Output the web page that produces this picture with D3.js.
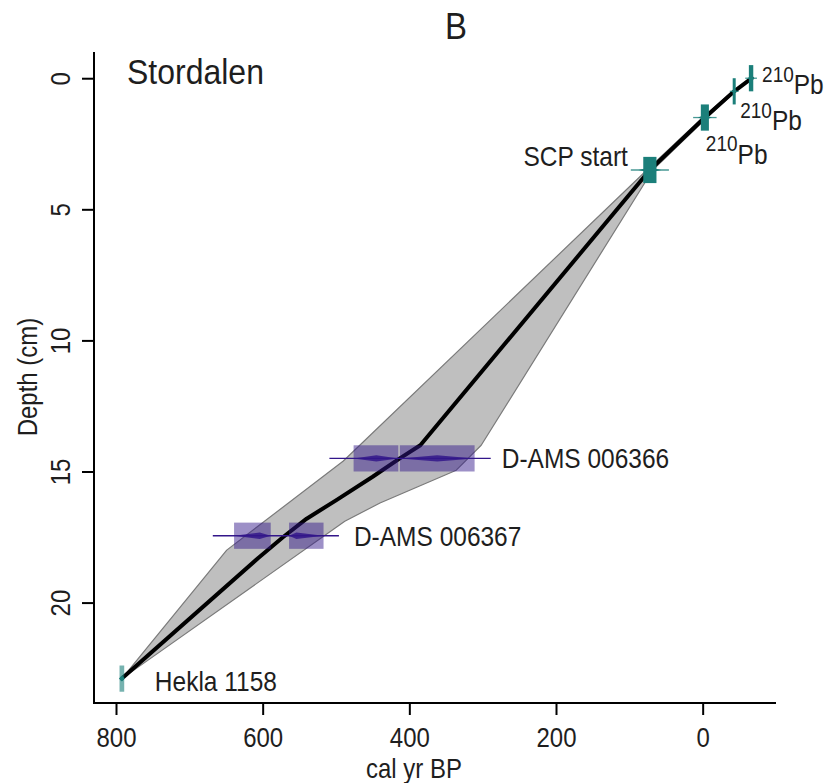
<!DOCTYPE html>
<html><head><meta charset="utf-8">
<script src="https://cdn.jsdelivr.net/npm/d3@7/dist/d3.min.js"></script>
<style>
body{margin:0;background:#fff;}
text{font-family:"Liberation Sans",Arial,Helvetica,sans-serif;fill:#1e1e1e;}
</style></head>
<body>
<script>
// ---------- data ----------
const xTicks = [800, 600, 400, 200, 0];
const yTicks = [0, 5, 10, 15, 20];

// mean age-depth model (cal yr BP vs depth cm)
const modelAge   = [-67, -43, -3, 72, 385, 413, 450, 500, 540, 572, 606, 792];
const modelDepth = [0, 0.5, 1.5, 3.5, 14, 14.5, 15.2, 16.1, 16.8, 17.5, 18.3, 22.9];

// 95% envelope
const bandYoungAge   = [-68, -45, -6, 68, 302, 336, 440, 488, 792];
const bandYoungDepth = [0, 0.5, 1.5, 3.5, 14, 14.95, 16.2, 16.9, 22.9];
const bandOldAge     = [-66, -41, 0, 76, 490, 649, 792];
const bandOldDepth   = [0, 0.5, 1.5, 3.5, 14.6, 18, 22.9];

// teal (non-14C) markers
const markerNames  = ["210Pb", "210Pb", "210Pb", "SCP start", "Hekla 1158"];
const markerAge    = [-66, -43, -3, 72, 792];
const markerDepth  = [0, 0.5, 1.5, 3.5, 22.9];
const markerBoxErr = [3, 2, 5.5, 9, 3.2];
const markerWhisk  = [8, 6, 16, 26, 0];
const markerDErr   = [0.5, 0.5, 0.5, 0.5, 0.5];

// 14C dates
const c14Names  = ["D-AMS 006366", "D-AMS 006367"];
const c14Depth  = [14.5, 17.45];
const c14Range  = [[509, 289], [668, 496]];
const c14Boxes  = [[[476, 415], [413, 311]], [[639, 589], [564, 517]]];
const c14Peaks  = [[445, 362], [604, 554]];

// ---------- drawing ----------
const W = 830, H = 783;
const SY = 1.12; // slightly tall glyph look of the reference
const svg = d3.select("body").append("svg").attr("width", W).attr("height", H);
const x = d3.scaleLinear().domain([830, -100]).range([94, 776]);
const y = d3.scaleLinear().domain([-1, 23.83]).range([52, 703]);

const teal = "#1b7f7a", purple = "rgb(51,22,138)";
const line = d3.line().x(d => x(d[0])).y(d => y(d[1]));

// envelope
const young = bandYoungAge.map((a, i) => [a, bandYoungDepth[i]]);
const old = bandOldAge.map((a, i) => [a, bandOldDepth[i]]).reverse();
svg.append("path").attr("d", line(young.concat(old)) + "Z")
  .attr("fill", "#bfbfbf").attr("stroke", "#7a7a7a").attr("stroke-width", 1.2)
  .attr("stroke-linejoin", "round");

// mean line
svg.append("path").attr("d", line(modelAge.map((a, i) => [a, modelDepth[i]])))
  .attr("fill", "none").attr("stroke", "#000").attr("stroke-width", 4)
  .attr("stroke-linejoin", "round").attr("stroke-linecap", "round");

function spindle(a0, peak, a1, d, h) {
  return `M${x(a0)},${y(d)} L${x(peak)},${y(d) - h} L${x(a1)},${y(d)} L${x(peak)},${y(d) + h} Z`;
}

// 14C dates
c14Names.forEach((nm, i) => {
  const g = svg.append("g");
  const dd = c14Depth[i];
  c14Boxes[i].forEach(b => {
    g.append("rect").attr("x", x(b[0])).attr("width", x(b[1]) - x(b[0]))
      .attr("y", y(dd - 0.5)).attr("height", y(dd + 0.5) - y(dd - 0.5))
      .attr("fill", purple).attr("fill-opacity", 0.48);
  });
  g.append("line").attr("x1", x(c14Range[i][0])).attr("x2", x(c14Range[i][1]))
    .attr("y1", y(dd)).attr("y2", y(dd)).attr("stroke", purple).attr("stroke-width", 1.3);
  c14Boxes[i].forEach((b, k) => {
    g.append("path").attr("d", spindle(b[0], c14Peaks[i][k], b[1], dd, 3.2))
      .attr("fill", purple).attr("fill-opacity", 0.85);
  });
});

// teal markers
markerNames.forEach((nm, i) => {
  const a = markerAge[i], dd = markerDepth[i];
  const op = i === 4 ? 0.6 : 1;
  const rw = Math.max(x(a - markerBoxErr[i]) - x(a + markerBoxErr[i]), 3);
  svg.append("rect").attr("x", (x(a - markerBoxErr[i]) + x(a + markerBoxErr[i])) / 2 - rw / 2)
    .attr("width", rw).attr("y", y(dd - markerDErr[i]))
    .attr("height", y(dd + markerDErr[i]) - y(dd - markerDErr[i]))
    .attr("fill", teal).attr("fill-opacity", op);
  if (markerWhisk[i] > 0) {
    svg.append("line").attr("x1", x(a + markerWhisk[i])).attr("x2", x(a - markerWhisk[i]))
      .attr("y1", y(dd)).attr("y2", y(dd)).attr("stroke", teal).attr("stroke-width", 1.3)
      .attr("stroke-opacity", 0.8);
    svg.append("path").attr("d", spindle(a + markerWhisk[i] * 0.6, a, a - markerWhisk[i] * 0.6, dd, 2.5))
      .attr("fill", teal);
  }
});
// Hekla point
svg.append("path").attr("d", spindle(markerAge[4] + 4, markerAge[4], markerAge[4] - 4, markerDepth[4], 3))
  .attr("fill", teal);

// ---------- axes ----------
const xAxis = svg.append("g").attr("transform", "translate(0,703)")
  .call(d3.axisBottom(x).tickValues(xTicks).tickSize(12).tickPadding(8).tickFormat(d3.format("d")));
const yAxis = svg.append("g").attr("transform", "translate(94,0)")
  .call(d3.axisLeft(y).tickValues(yTicks).tickSize(12).tickFormat(d3.format("d")));
[xAxis, yAxis].forEach(g => {
  g.select(".domain").remove();
  g.selectAll(".tick line").attr("stroke", "#000").attr("stroke-width", 2);
  g.selectAll(".tick text").attr("fill", "#1e1e1e").style("font-size", "24px")
    .style("font-family", "'Liberation Sans',Arial,sans-serif");
});
xAxis.selectAll(".tick text").attr("dy", null).attr("y", null)
  .attr("transform", `translate(0,44) scale(1,${SY})`);
yAxis.selectAll(".tick text").attr("x", null).attr("dy", null).attr("y", null)
  .attr("transform", `translate(-24,0) rotate(-90) scale(1,${SY})`)
  .attr("text-anchor", "middle");

svg.append("path").attr("d", "M94,52 L94,703 L776,703")
  .attr("fill", "none").attr("stroke", "#000").attr("stroke-width", 2);

// ---------- texts ----------
function label(px, py, txt, size, anchor, rot) {
  return svg.append("text")
    .attr("transform", `translate(${px},${py})${rot ? " rotate(-90)" : ""} scale(1,${SY})`)
    .attr("text-anchor", anchor || "start").style("font-size", size + "px").text(txt);
}
label(456, 39, "B", 33, "middle");
label(127, 84, "Stordalen", 32);
label(414, 778, "cal yr BP", 24, "middle");
label(37, 377, "Depth (cm)", 24, "middle", true);

// marker labels
const pbPos = [[11, 16], [6, 39], [1, 46]];
for (let i = 0; i < 3; i++) {
  const t = label(x(markerAge[i]) + pbPos[i][0], y(markerDepth[i]) + pbPos[i][1], "", 24.5);
  t.append("tspan").attr("dy", -11).style("font-size", "19px").text("210");
  t.append("tspan").attr("dy", 11).text("Pb");
}
label(x(markerAge[3]) - 22, y(markerDepth[3]) - 4, markerNames[3], 24.5, "end");
label(x(markerAge[4]) + 33, y(markerDepth[4]) + 12, markerNames[4], 24.5);
label(x(c14Range[0][1]) + 11, y(c14Depth[0]) + 10, c14Names[0], 24.5);
label(x(c14Range[1][1]) + 15, y(c14Depth[1]) + 10, c14Names[1], 24.5);
</script>
</body></html>
